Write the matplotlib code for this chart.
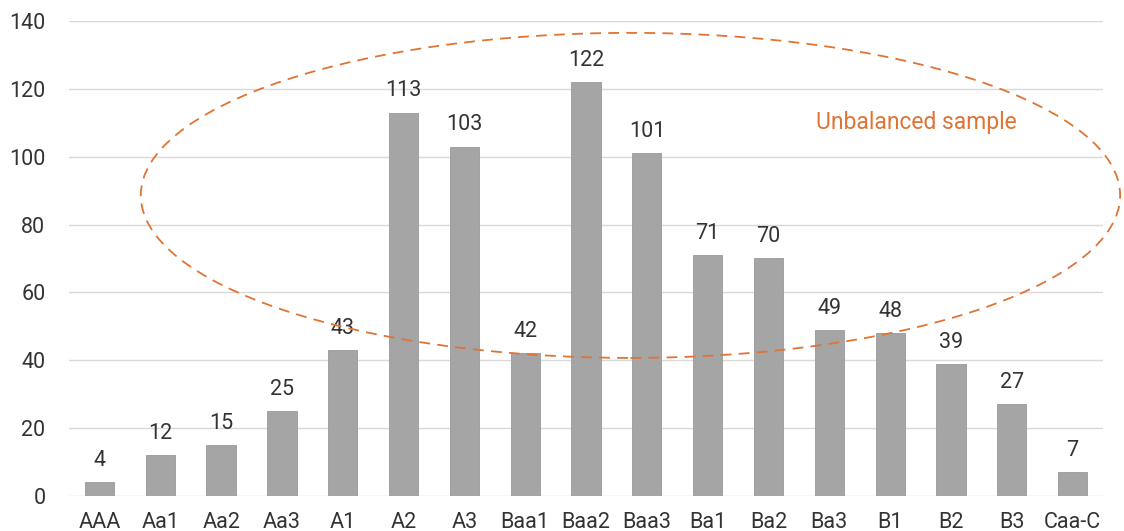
import matplotlib
matplotlib.use("Agg")
import matplotlib.pyplot as plt
from matplotlib.patches import Ellipse

categories = ["AAA", "Aa1", "Aa2", "Aa3", "A1", "A2", "A3", "Baa1", "Baa2", "Baa3",
              "Ba1", "Ba2", "Ba3", "B1", "B2", "B3", "Caa-C"]
values = [4, 12, 15, 25, 43, 113, 103, 42, 122, 101, 71, 70, 49, 48, 39, 27, 7]
yticks = [0, 20, 40, 60, 80, 100, 120, 140]

plt.rcParams['font.family'] = ['Roboto', 'DejaVu Sans']

fig = plt.figure(figsize=(11.24, 5.31), dpi=100)
ax = fig.add_axes([0.0614, 0.0659, 0.92, 0.8946])

x = list(range(len(categories)))
ax.bar(x, values, width=0.48, color="#a5a5a5", edgecolor="#999999", linewidth=0.6, zorder=3)
for xi, v in zip(x, values):
    ax.annotate(str(v), (xi, v), xytext=(0, 8), textcoords="offset points",
                ha="center", va="bottom", fontsize=15.5, color="#333333")

ax.set_xlim(-0.5, len(categories) - 0.5)
ax.set_ylim(0, 140)
ax.set_yticks(yticks)
ax.set_xticks(x)
ax.set_xticklabels(categories)
ax.tick_params(axis="both", length=0, labelsize=15.5, colors="#333333")
ax.tick_params(axis="x", pad=11.5)
ax.tick_params(axis="y", pad=17)
ax.grid(axis="y", color="#d9d9d9", linewidth=1, zorder=0)
for s in ax.spines.values():
    s.set_visible(False)

ell = Ellipse((8.73, 88.6), 16.1, 95.8, fill=False, edgecolor="#e07434",
              linestyle=(0, (6, 4)), linewidth=1.3, clip_on=False, zorder=4)
ax.add_patch(ell)
ax.text(13.43, 110, "Unbalanced sample", color="#e07434", fontsize=16.5,
        ha="center", va="center")

fig.savefig("out.png", dpi=100)
